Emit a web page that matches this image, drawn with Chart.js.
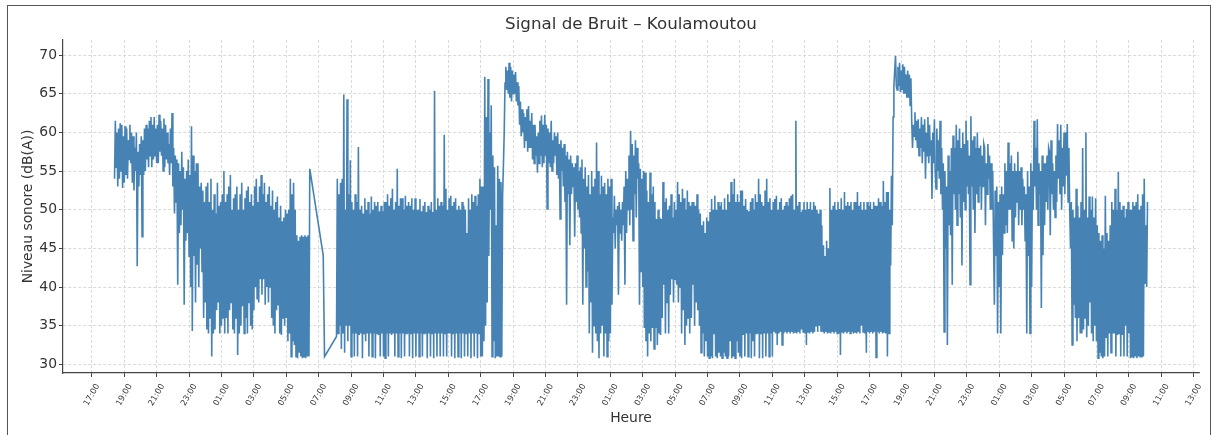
<!DOCTYPE html>
<html>
<head>
<meta charset="utf-8">
<script src="https://cdn.jsdelivr.net/npm/chart.js@4.4.1/dist/chart.umd.min.js"></script>
<style>
	body { margin: 0; background: #fff; }
	#wrap { position: relative; width: 1214px; height: 435px; overflow: hidden; }
	#cadre { position: absolute; left: 7px; top: 5px; width: 1202px; height: 440px; border: 1.5px solid #555; pointer-events: none; }
</style>
</head>
<body>
<div id="wrap">
	<canvas id="chartBruit" width="1214" height="435"></canvas>
	<div id="cadre"></div>
</div>
<script>
'use strict'

// heures comptees depuis minuit du premier jour, un releve toutes les 3 minutes
const pas = 0.05;
const debuts = [18.4, 24.1, 32.1, 42.5, 48.1, 54.1, 66.3, 72.1];

const soiree1 = [
	54, 61.5, 55.5, 60, 53, 60.5, 54, 61.2, 55, 61, 52.8, 59.5, 53.5, 60.8,
	54.5, 60.5, 54, 59, 56.5, 61, 56, 60, 53.5, 59.5, 52.5, 58, 55, 60, 42.7, 57.5, 53, 58.5, 54.5, 59.5,
	46.5, 59, 54.5, 60.5, 55, 61, 56.5, 60.5, 55.5, 61.5, 57, 62, 55.5, 61, 56.5, 62, 57, 60.5, 56, 61,
	56, 62.3, 57.5, 61.5, 57, 60.5, 55, 61.8, 55.5, 61, 56.5, 60, 56, 58.5, 54.5, 60.5, 56, 62.5, 53, 58,
	49.5, 57, 51, 56.5, 40.3, 56, 47, 55, 48, 57.5, 50, 55.5, 37.7, 54, 46, 55, 47, 56.5, 44, 54.5,
	40, 60.8, 34.3, 57, 44, 55, 38, 56, 43, 56, 40, 53, 45, 53.5, 42, 52.5, 36, 51, 38, 53
];
const nuit1 = [
	34.5, 53.5, 34, 51, 36, 54, 31, 50, 34, 52, 34.5, 49.5, 37, 53.5, 38, 50.5, 34, 51, 35, 52,
	36, 55, 34, 51, 36, 52, 34, 53, 37, 54.5, 38, 50, 34.5, 51.5, 34, 52, 36, 53, 31.2, 50,
	34, 52, 35, 53.5, 37.5, 50, 34, 51.5, 36, 52.5, 34, 53, 38, 51, 35, 52, 34.5, 50.5, 37, 53,
	40, 54, 38.5, 51, 38, 53, 41, 54.5, 39, 52, 41, 53.5, 37.7, 51, 40, 52, 38, 53, 40, 50.5,
	36, 52.5, 35, 50, 34, 51, 37, 51.7, 37.7, 49, 34, 50.5, 33.8, 48.5, 36, 49, 35, 50, 36, 49.5,
	33, 50, 34, 54, 31, 52, 33, 53.5, 32.5, 50, 31, 46.7, 30.8, 46, 31.5, 46.5, 31, 46.7, 30.8, 46.5,
	31, 46.7, 30.8, 46.5, 31, 46.7, 31, 55.3
];
// trou dans les mesures vers 07:00
const trouHeures = [31.28, 31.36];
const trouNiveaux = [44.1, 31.0];
const jour2 = [
	33.6, 54, 34, 52, 35, 53.5, 32, 54, 34, 64.9, 31.5, 50, 35, 64.3, 33, 52, 35, 56.4, 31, 51,
	34, 50, 31, 52, 34, 51, 31, 58.1, 33.8, 50, 34, 50.5, 30.8, 49.5, 34, 51.5, 33, 50, 34, 51,
	31, 49.5, 34, 51.7, 31, 50, 34, 51, 30.8, 50.5, 34, 51, 33.8, 49.8, 31, 50.5, 34, 49.8, 31, 51,
	30.8, 51, 34, 52, 31, 50.5, 34, 51.5, 33.8, 52.7, 34, 50, 31, 51, 34, 55.3, 31, 50.5, 34, 51.5,
	30.8, 51.5, 34, 50, 31, 51.8, 34, 50.5, 34, 51, 31, 50.5, 34, 51.5, 30.8, 50, 34, 51.5, 31, 50,
	34, 50, 31, 51.4, 34, 49.8, 31, 50.5, 34, 51, 34, 49.7, 30.8, 50.5, 34, 50, 31, 51, 34, 49.7,
	30.8, 65.4, 34, 50, 31, 51.5, 34, 50.5, 31, 51, 34, 50.5, 31, 59.7, 34, 52.7, 31, 50, 34, 51.5,
	34, 51.8, 31, 50.5, 34, 51, 30.8, 51.5, 34, 50, 31, 50.5, 34, 50, 30.8, 51, 34, 50.5, 31, 50,
	34, 47, 31, 51.5, 34, 50, 30.8, 52, 34, 51, 31, 51.8, 34, 50.5, 30.8, 52, 34, 54, 31, 53,
	31, 53, 33, 67.2, 35, 62, 38, 66.9, 44, 60, 50, 63.5, 31, 57, 33, 55.5,
	30.8, 48, 31, 55.7, 31, 54, 31, 53.6, 31, 51.8, 55.7, 60
];
const soiree2 = [
	66.4, 68.5, 65.5, 68, 65, 69, 64.5, 68.5, 64, 68, 65, 67.5,
	65, 67.8, 64, 66.5, 63.5, 66, 61, 64, 59.5, 63, 60, 62.5, 58, 62, 59, 63,
	57.5, 63.4, 58, 61.5, 58, 62.5, 56.5, 61, 56, 61, 57, 59.5, 54.8, 60, 56, 61.5, 57, 62.2, 55.5, 61, 56, 62.3, 57, 61,
	50.1, 60.5, 56, 60, 55.5, 61.5, 55, 59, 56, 60, 57, 59.5, 54.5, 60, 54, 58.5, 48.8, 59, 55, 58,
	53, 58.5, 51, 57, 37.7, 57.5, 52, 56.5, 45.4, 57, 52, 56, 53, 55.5, 46.5, 56, 51, 57, 50, 55,
	49, 55.5, 47, 56.5, 37.7, 54, 45, 55.5, 40, 53, 42, 54.5, 34, 52, 38, 55, 31.5, 53, 35, 54
];
const nuit2 = [
	34, 58.7, 33, 55, 30.8, 52, 34, 54.4, 35, 53, 31, 53.5, 34, 52, 31, 54, 33, 53, 34, 54,
	37.7, 49, 47, 51.8, 45, 50, 48, 50.5, 39, 51, 47, 50, 46, 51, 48, 53, 40.3, 55, 47, 54,
	50, 57, 48, 60.2, 50, 58.5, 46, 57, 52, 59, 49, 58, 54, 56, 37.7, 55.3, 42, 54, 40, 55,
	34.7, 54.8, 33, 52.5, 31, 51, 34, 54.8, 33, 52, 34.7, 53, 32, 51, 34.7, 48.8, 32.5, 50, 34, 49,
	33.8, 48.8, 36, 53.6, 40.3, 51, 34, 51.5, 38, 50, 34, 50.5, 39, 52, 41, 49, 38, 51, 41, 50,
	40.3, 53.6, 38, 52, 40, 51, 34, 52.7, 37, 51.5, 32.5, 50, 35, 52.5, 36, 51, 34, 50.5, 36, 51
];
const jour3 = [
	40.3, 51, 35, 50.5, 38, 52, 37, 50, 35, 49.5, 31.5, 48, 34, 48.5, 31, 47, 33, 49, 31, 48.5,
	30.8, 49.7, 31, 51.4, 30.8, 50, 34, 51.8, 31, 50, 30.8, 51, 31.5, 50.5, 31, 51, 30.8, 50, 31.5, 51.5,
	31, 50, 30.8, 52, 31, 51, 33, 53.6, 30.8, 52, 31, 54, 30.8, 51, 33, 52, 31.5, 51, 31, 52.5,
	30.8, 52.5, 33.8, 50.5, 31, 51.4, 34, 50, 31, 49.8, 34, 51, 30.8, 51.5, 33, 50, 31, 52, 34, 51,
	34, 54, 30.8, 52, 34, 51, 30.8, 50.5, 34, 52.5, 31, 54, 34, 51, 31, 51.5, 34, 50, 31, 51,
	34.2, 51.4, 34, 51.8, 32.5, 50, 34, 51, 34.2, 51.5, 32.5, 50, 34, 50.5, 34.2, 51, 34, 50.5, 34.2, 51.5,
	34, 51.8, 34.2, 52, 34, 50, 34.2, 61.5, 34, 50.5, 34.2, 51, 34, 49.7, 34.5, 50, 34.2, 51, 34, 50,
	32.5, 51, 34.2, 50.1, 34, 51, 34.2, 50, 34, 51, 34.2, 50.5, 35, 50, 34.2, 49.5, 35, 50, 34.2, 48,
	34.2, 45.4, 34, 44, 34.2, 46, 34, 45, 34.2, 52.8, 34, 50, 34.2, 50.5, 34, 51, 34.2, 50, 34, 51,
	34, 50.1, 31.2, 51.5, 34.2, 50, 34, 52.3, 34.2, 50.5, 34, 51, 34.2, 50.5, 34, 51, 34.2, 50, 34, 51,
	34.2, 51, 34, 52.3, 34.2, 50.5, 34, 51, 35, 50, 34.2, 51, 34, 50, 31.5, 51, 34.2, 50.5, 34, 51,
	34.2, 50.1, 34, 51, 34.2, 50.5, 30.9, 50.5, 34.2, 51.5, 34, 51, 34.2, 50.5, 34, 53.7, 34.2, 51, 34, 52.3,
	31, 52.3, 34, 50
];
const soiree3 = [
	42.8, 54.4, 48, 62, 66, 68, 69.9, 66, 65.5, 68.5, 66, 69, 65.2, 68, 65.5, 68.8,
	65, 68.5, 65, 67.5, 64.5, 68, 64.5, 67.5, 63.5, 67,
	61.5, 58, 61, 59.5, 62.6, 59, 61.5, 58, 61.7, 57, 60.5, 58, 62, 56, 61, 57.5, 61.7, 54, 60, 57, 62, 56, 61, 57, 59, 51.4, 60, 56, 61.7, 55,
	52.7, 60.5, 55, 59, 54, 61.5, 52, 58, 50, 56, 34.2, 55, 45, 53, 32.5, 57, 48, 55, 46.7, 58,
	40.3, 59.6, 52, 58, 50, 61, 48, 59, 52, 60.5, 49, 58, 42.8, 60, 51, 58.5, 50, 61.5, 53, 59,
	52, 57, 40.3, 62.1, 53, 59, 50, 59.5, 47, 58, 52, 60, 51, 58, 53, 58.3, 50, 57, 53, 58.5
];
const nuit3 = [
	58, 48, 56, 52, 58.5, 54, 57, 50, 56, 50, 55, 46, 37.7, 52.5, 44, 53, 34, 51, 40, 52,
	34, 53, 44.1, 52, 47, 56, 48, 55, 47, 58.7, 50, 56, 50, 57, 46, 55, 45, 56, 49, 55,
	51, 57.5, 48, 55, 50, 55.5, 48, 54, 50, 53, 46, 52, 34, 55, 44, 53, 34, 56, 40, 55,
	50, 61.5, 53, 58, 50, 61.7, 48, 56, 52, 55, 37.3, 57, 44.1, 56, 48, 56, 51, 57, 50, 58,
	57.5, 46.7, 59, 52, 56, 50, 55, 49, 57, 51, 61.1, 54, 59, 52, 61, 50, 58, 53, 60, 52,
	60, 54.4, 61.1, 51, 58, 50, 45, 51, 32.5, 50, 37.7, 49, 36, 52.7, 33, 50.5, 36, 49, 34, 51,
	34, 58, 34.5, 50, 36, 60, 33.5, 49, 35, 51.7, 38, 50, 34, 51.7, 33, 49, 35, 51.5, 33, 48,
	30.8, 47, 31.5, 46, 31, 46.7, 30.8, 45, 31, 51.8, 33.5, 47, 31, 46, 34, 48, 31.5, 51, 34, 50,
	34, 52.7, 31, 50, 33.8, 54.9, 34, 51, 31, 50, 33.8, 50.5, 31, 49, 35, 50.1, 31, 51, 34, 50,
	30.8, 50, 31, 51, 30.8, 50.5, 31, 51, 30.8, 52, 31, 50, 31, 50.5, 30.9, 52, 31, 54, 40.5, 48, 40, 51
];

const xTickLabels = [
	'17:00', '19:00', '21:00', '23:00', '01:00', '03:00', '05:00', '07:00', '09:00', '11:00', '13:00', '15:00',
	'17:00', '19:00', '21:00', '23:00', '01:00', '03:00', '05:00', '07:00', '09:00', '11:00', '13:00', '15:00',
	'17:00', '19:00', '21:00', '23:00', '01:00', '03:00', '05:00', '07:00', '09:00', '11:00', '13:00'
];
const yTickValues = [30, 35, 40, 45, 50, 55, 60, 65, 70];

const colors = {
	line: '#4682b4',
	text: '#333333',
	axis: '#444444',
	grid: '#d0d0d0',
};
const font = 'DejaVu Sans';

let points = [];
function addSection(start, values) {
	values.forEach(function (v, i) {
		points.push({ x: +(start + i * pas).toFixed(2), y: v });
	});
}
addSection(debuts[0], soiree1);
addSection(debuts[1], nuit1);
trouHeures.forEach(function (h, i) {
	points.push({ x: h, y: trouNiveaux[i] });
});
addSection(debuts[2], jour2);
addSection(debuts[3], soiree2);
addSection(debuts[4], nuit2);
addSection(debuts[5], jour3);
addSection(debuts[6], soiree3);
addSection(debuts[7], nuit3);

let ctx = document.getElementById('chartBruit').getContext('2d');

let chartBruit = new Chart(ctx, {
	type: 'line',
	data: {
		datasets: [
			{
				data: points,
				borderColor: colors.line,
				borderWidth: 1.6,
				pointRadius: 0,
				tension: 0,
				fill: false,
			},
		],
	},
	options: {
		responsive: false,
		animation: false,
		devicePixelRatio: 1,
		parsing: false,
		layout: {
			padding: { left: 0, right: 15, top: 0, bottom: 0 },
		},
		plugins: {
			legend: { display: false },
			tooltip: { enabled: false },
			title: {
				display: true,
				text: 'Signal de Bruit – Koulamoutou',
				fullSize: false,
				color: colors.text,
				font: { family: font, size: 16.7, weight: 'normal' },
				padding: { top: 15, bottom: 5 },
			},
		},
		scales: {
			x: {
				type: 'linear',
				min: 15.22,
				max: 85.33,
				afterBuildTicks: function (scale) {
					scale.ticks = xTickLabels.map(function (l, i) {
						return { value: 17 + 2 * i };
					});
				},
				afterFit: function (scale) {
					scale.height = 62;
				},
				ticks: {
					autoSkip: false,
					minRotation: 60,
					maxRotation: 60,
					labelOffset: 6,
					padding: 5,
					color: colors.text,
					font: { family: font, size: 8.3 },
					callback: function (value, index) {
						return xTickLabels[index];
					},
				},
				grid: {
					color: colors.grid,
					lineWidth: 0.8,
					tickLength: 4,
					tickColor: colors.axis,
					tickWidth: 1,
				},
				border: {
					color: colors.axis,
					width: 1.2,
					dash: [3, 2],
				},
				title: {
					display: true,
					text: 'Heure',
					color: colors.text,
					font: { family: font, size: 13.9 },
					padding: { top: 0, bottom: 8.6 },
				},
			},
			y: {
				type: 'linear',
				min: 28.88,
				max: 71.95,
				afterBuildTicks: function (scale) {
					scale.ticks = yTickValues.map(function (v) {
						return { value: v };
					});
				},
				afterFit: function (scale) {
					scale.width = 63;
				},
				ticks: {
					padding: 2,
					color: colors.text,
					font: { family: font, size: 13.9 },
				},
				grid: {
					color: colors.grid,
					lineWidth: 0.8,
					tickLength: 4,
					tickColor: colors.axis,
					tickWidth: 1,
				},
				border: {
					color: colors.axis,
					width: 1.2,
					dash: [3, 2],
				},
				title: {
					display: true,
					text: 'Niveau sonore (dB(A))',
					color: colors.text,
					font: { family: font, size: 13.9 },
					padding: { top: 19.6, bottom: 0 },
				},
			},
		},
	},
});
</script>
</body>
</html>
